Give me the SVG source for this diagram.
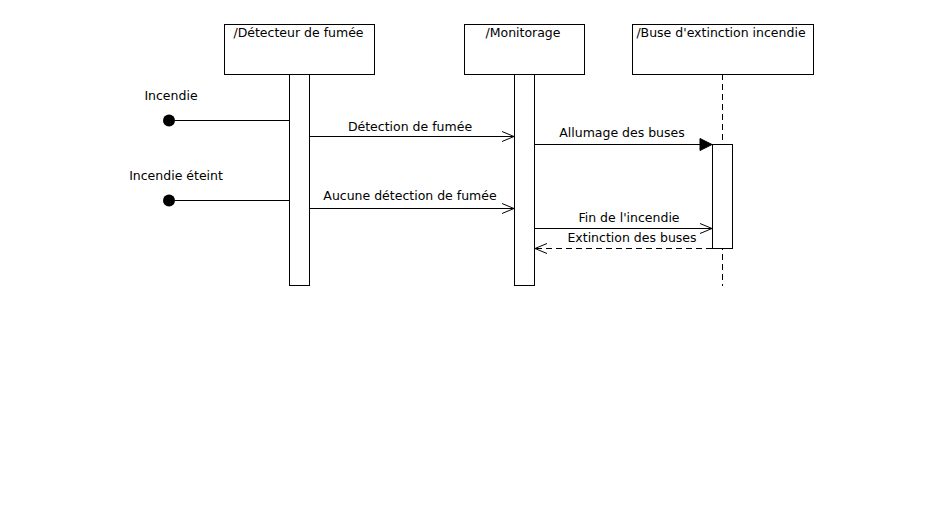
<svg xmlns="http://www.w3.org/2000/svg" width="942" height="520" viewBox="0 0 942 520">
<style>
text{font-family:"DejaVu Sans","Verdana",sans-serif;font-size:12.5px;fill:#000}
.box{fill:#fff;stroke:#000;stroke-width:1}
.ln{stroke:#000;stroke-width:1;fill:none}
.dash{stroke-dasharray:6,4}
</style>
<defs>
<marker id="open" markerWidth="14" markerHeight="12" refX="13" refY="6" orient="auto" markerUnits="userSpaceOnUse">
<path d="M1,1 L13,6 L1,11" fill="none" stroke="#000" stroke-width="1"/>
</marker>
<marker id="fill" markerWidth="14" markerHeight="14" refX="13" refY="7" orient="auto" markerUnits="userSpaceOnUse">
<path d="M1,1 L13,7 L1,13 Z" fill="#000" stroke="#000"/>
</marker>
</defs>
<rect width="942" height="520" fill="#fff"/>
<g id="lifeline-buse-line">
<line class="ln dash" x1="722.5" y1="74" x2="722.5" y2="286"/>
</g>
<g id="detecteur">
<rect class="box" x="224.5" y="24.5" width="150" height="50"/>
<text x="298.5" y="37" text-anchor="middle">/Détecteur de fumée</text>
<rect class="box" x="289.5" y="74.5" width="20" height="211"/>
</g>
<g id="monitorage">
<rect class="box" x="464.5" y="24.5" width="120" height="50"/>
<text x="523" y="37" text-anchor="middle">/Monitorage</text>
<rect class="box" x="514.5" y="74.5" width="20" height="211"/>
</g>
<g id="buse">
<rect class="box" x="632.5" y="24.5" width="181" height="50"/>
<text x="721" y="37" text-anchor="middle">/Buse d'extinction incendie</text>
<rect class="box" x="712.5" y="144.5" width="20" height="104"/>
</g>
<g id="incendie">
<circle cx="169" cy="120.5" r="6" fill="#000"/>
<text x="171" y="100" text-anchor="middle">Incendie</text>
</g>
<g id="incendie-eteint">
<circle cx="169" cy="200.5" r="6" fill="#000"/>
<text x="176" y="180" text-anchor="middle">Incendie éteint</text>
</g>
<g id="connectors">
<line class="ln" x1="175" y1="120.5" x2="289.5" y2="120.5"/>
<line class="ln" x1="175" y1="200.5" x2="289.5" y2="200.5"/>
<line class="ln" x1="309.5" y1="136.5" x2="514" y2="136.5" marker-end="url(#open)"/>
<text x="410" y="131" text-anchor="middle">Détection de fumée</text>
<line class="ln" x1="309.5" y1="208.5" x2="514" y2="208.5" marker-end="url(#open)"/>
<text x="410" y="200" text-anchor="middle">Aucune détection de fumée</text>
<line class="ln" x1="534.5" y1="144.5" x2="712" y2="144.5" marker-end="url(#fill)"/>
<text x="622" y="137" text-anchor="middle">Allumage des buses</text>
<line class="ln" x1="534.5" y1="228.5" x2="712" y2="228.5" marker-end="url(#open)"/>
<text x="629" y="222" text-anchor="middle">Fin de l'incendie</text>
<line class="ln dash" x1="712" y1="248.5" x2="535" y2="248.5" marker-end="url(#open)"/>
<text x="632" y="242" text-anchor="middle">Extinction des buses</text>
</g>
</svg>
